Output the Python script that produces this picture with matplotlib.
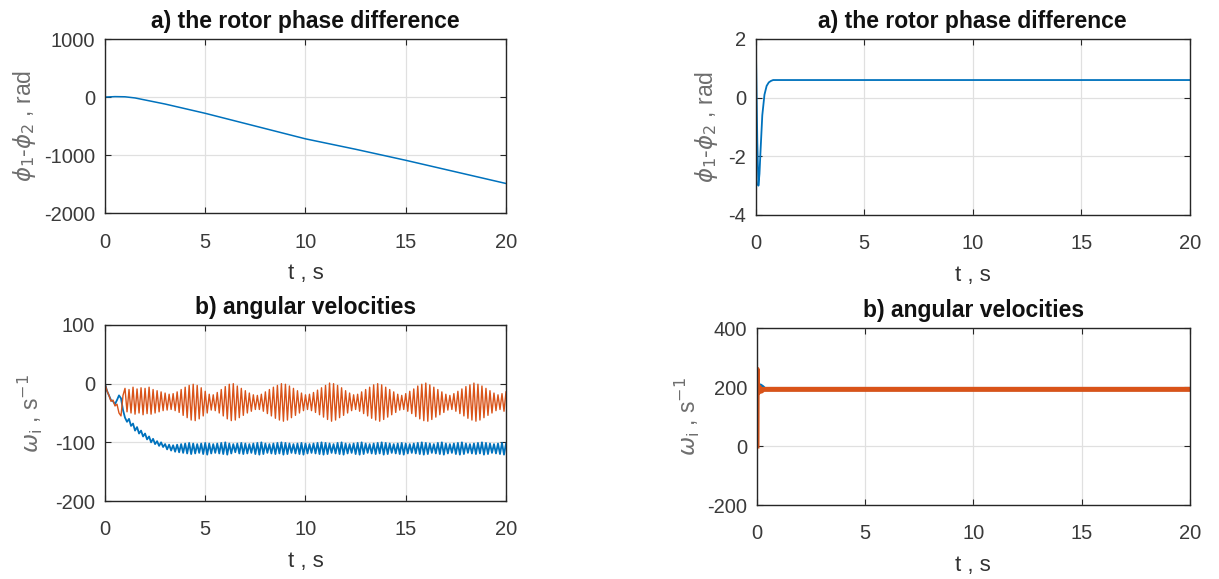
import numpy as np
import matplotlib
matplotlib.use("Agg")
import matplotlib.pyplot as plt

plt.rcParams['font.family'] = ['Liberation Sans', 'DejaVu Sans']
plt.rcParams['mathtext.fontset'] = 'dejavusans'
plt.rcParams['axes.unicode_minus'] = False

blue = '#0072BD'
orange = '#D95319'

# a) left: phase difference, rad
t_phase_l = [0, 0.5, 1.0, 1.5, 2.0, 3.0, 5.0, 7.5, 10.0, 12.5, 15.0, 17.5, 20.0]
phase_l = [0, 8, 5, -15, -50, -120, -280, -500, -720, -900, -1090, -1290, -1490]

# a) right: phase difference, rad
t_phase_r = [0, 0.03, 0.07, 0.12, 0.17, 0.22, 0.3, 0.4, 0.5, 0.6, 0.7, 0.8, 1.0, 2.0, 20.0]
phase_r = [2.0, 0.5, -1.5, -3.0, -2.6, -1.8, -0.6, 0.1, 0.4, 0.52, 0.57, 0.6, 0.6, 0.6, 0.6]

# b) left: angular velocities, sampled every 0.1 s
t_omega = np.linspace(0, 20, 201)
omega2_l = [
    0, -12, -20, -30, -28, -38, -35, -50, -55, -20,
    -8, -48, -10, -50, -6, -52, -9, -50, -7, -53,
    -8, -51, -6, -52, -10, -50, -12, -48, -14, -46,
    -16, -45, -18, -44, -17, -46, -14, -49, -10, -54,
    -6, -58, -3, -62, -1, -63, -3, -60, -7, -55,
    -13, -50, -18, -45, -19, -46, -15, -50, -10, -55,
    -5, -60, -1, -63, 0, -62, -4, -58, -8, -54,
    -12, -50, -16, -47, -19, -44, -20, -44, -18, -47,
    -14, -51, -10, -55, -6, -59, -3, -62, 0, -64,
    -1, -62, -4, -58, -8, -54, -12, -50, -16, -46,
    -19, -44, -18, -46, -15, -49, -11, -53, -7, -57,
    -3, -61, 1, -64, 0, -62, -3, -58, -7, -54,
    -12, -50, -16, -46, -19, -44, -18, -47, -14, -51,
    -10, -55, -6, -59, -2, -62, 0, -64, -2, -61,
    -6, -57, -10, -53, -14, -49, -18, -45, -20, -44,
    -17, -47, -13, -51, -9, -56, -4, -60, -1, -63,
    1, -64, -2, -61, -6, -57, -10, -53, -14, -49,
    -18, -45, -20, -44, -17, -47, -13, -51, -9, -55,
    -5, -59, -2, -62, 1, -64, -1, -62, -4, -58,
    -8, -54, -12, -50, -16, -46, -19, -44, -17, -47,
    -14,
]
omega1_l = [
    0, -12, -20, -28, -30, -35, -28, -20, -25, -45,
    -58, -65, -60, -72, -68, -80, -74, -85, -80, -90,
    -85, -95, -90, -100, -94, -103, -98, -106, -100, -108,
    -103, -112, -104, -114, -105, -116, -104, -117, -103, -118,
    -102, -119, -101, -120, -102, -119, -103, -118, -102, -120,
    -101, -121, -102, -119, -103, -118, -102, -119, -101, -120,
    -100, -121, -102, -119, -103, -117, -102, -119, -101, -120,
    -102, -119, -103, -118, -102, -120, -101, -121, -100, -120,
    -102, -118, -103, -119, -102, -120, -101, -119, -100, -121,
    -101, -120, -102, -118, -103, -119, -102, -120, -101, -121,
    -102, -119, -103, -118, -102, -119, -101, -120, -100, -121,
    -101, -120, -102, -118, -103, -119, -101, -120, -100, -121,
    -102, -119, -103, -118, -102, -120, -101, -121, -100, -120,
    -102, -118, -103, -119, -102, -120, -101, -119, -100, -121,
    -101, -120, -102, -118, -103, -119, -102, -120, -101, -121,
    -102, -119, -103, -118, -102, -119, -101, -120, -100, -121,
    -101, -120, -102, -118, -103, -119, -101, -120, -100, -121,
    -102, -119, -103, -118, -102, -120, -101, -121, -100, -120,
    -102, -118, -103, -119, -102, -120, -101, -119, -100, -121,
    -101, -120, -102, -118, -103, -119, -102, -120, -101, -121,
    -102,
]

# b) right: angular velocities
t_omega1_r = [0, 0.05, 0.15, 0.25, 0.35, 20.0]
omega1_r = [200, 180, 205, 200, 193, 193]
t_omega2_r = [0, 0.01, 0.02, 0.05, 0.1, 0.2, 0.3, 20.0]
omega2_r = [0, 260, 200, 180, 200, 186, 192, 192]

tick_col = '#262626'
lab_col = '#6e6e6e'


def style(ax, ylim, yticks, title, ylabel, ylab_x):
    ax.set_xlim(0, 20)
    ax.set_ylim(*ylim)
    ax.set_xticks([0, 5, 10, 15, 20])
    ax.set_yticks(yticks)
    ax.grid(True, color='#e0e0e0', linewidth=0.9)
    ax.set_axisbelow(True)
    ax.tick_params(direction='in', length=4, width=0.8, top=True, right=True,
                   labelsize=14.5, colors=tick_col, labelcolor='#3a3a3a')
    ax.tick_params(axis='x', pad=14)
    ax.tick_params(axis='y', pad=7)
    for s in ax.spines.values():
        s.set_color(tick_col)
        s.set_linewidth(1.0)
    ax.set_title(title, fontsize=16.5, fontweight='bold', pad=8, color='#111111')
    ax.set_xlabel('t , s', fontsize=16, color='#333333', labelpad=8)
    ax.set_ylabel(ylabel, fontsize=16.5, color=lab_col)
    ax.yaxis.set_label_coords(ylab_x, 0.5)


fig = plt.figure(figsize=(12.19, 5.79), dpi=100)
ax1 = fig.add_axes([0.0861, 0.632, 0.329, 0.3005])
ax2 = fig.add_axes([0.620, 0.6287, 0.356, 0.304])
ax3 = fig.add_axes([0.0861, 0.1347, 0.329, 0.304])
ax4 = fig.add_axes([0.621, 0.1278, 0.355, 0.3057])

phi_lab = r'$\phi_1$-$\phi_2$ , rad'
om_lab = r'$\omega_{\rm i}$ , s$^{-1}$'

ax1.plot(t_phase_l, phase_l, color=blue, linewidth=1.1)
style(ax1, (-2000, 1000), [-2000, -1000, 0, 1000], 'a) the rotor phase difference', phi_lab, -0.168)

ax2.plot(t_phase_r, phase_r, color=blue, linewidth=1.3)
style(ax2, (-4, 2), [-4, -2, 0, 2], 'a) the rotor phase difference', phi_lab, -0.083)

ax3.plot(t_omega, omega1_l, color=blue, linewidth=1.3)
ax3.plot(t_omega, omega2_l, color=orange, linewidth=1.0)
style(ax3, (-200, 100), [-200, -100, 0, 100], 'b) angular velocities', om_lab, -0.15)

ax4.plot(t_omega1_r, omega1_r, color=blue, linewidth=3.0)
ax4.plot(t_omega2_r, omega2_r, color=orange, linewidth=3.6)
style(ax4, (-200, 400), [-200, 0, 200, 400], 'b) angular velocities', om_lab, -0.127)

fig.savefig('out.png', dpi=100)
